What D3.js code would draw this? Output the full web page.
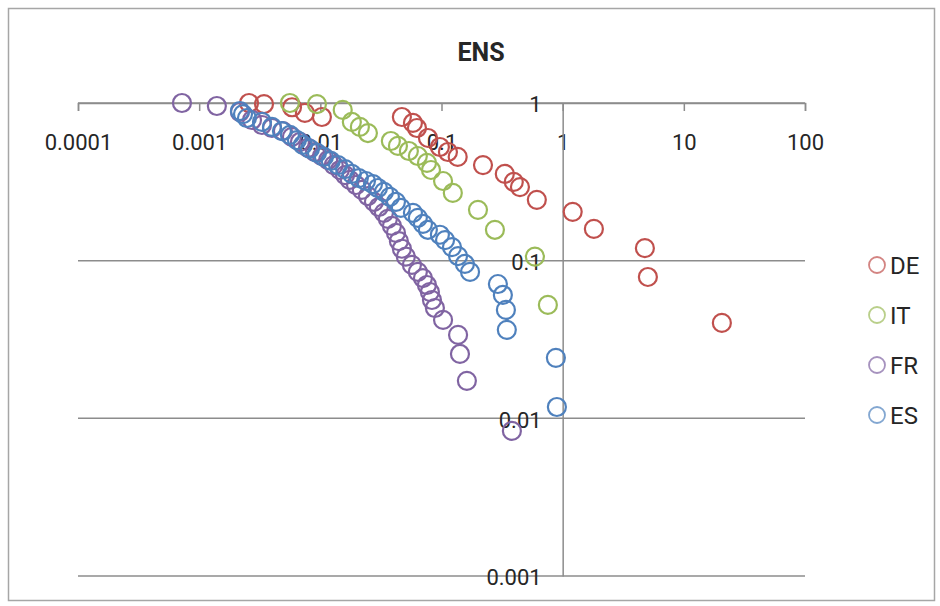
<!DOCTYPE html>
<html>
<head>
<meta charset="utf-8">
<script src="https://cdn.jsdelivr.net/npm/d3@7/dist/d3.min.js"></script>
<style>
  body { margin: 0; background: #fff; }
  svg text { font-family: "Liberation Sans Narrow", "Roboto", "DejaVu Sans", sans-serif; fill: #262626; }
</style>
</head>
<body>
<script>
// Series names and colours
var seriesNames = ["DE", "IT", "FR", "ES"];
var seriesColors = ["#C0504D", "#9BBB59", "#8064A2", "#4F81BD"];

// Tick values
var xTicks = [0.0001, 0.001, 0.01, 0.1, 1, 10, 100];
var yTicks = [0.001, 0.01, 0.1, 1];

// DE
var deX = [0.00258, 0.00343, 0.00584, 0.00746, 0.0103, 0.0471, 0.0581, 0.0627, 0.0773, 0.097, 0.113, 0.136, 0.220, 0.333, 0.395, 0.444, 0.612, 1.21, 1.81, 4.77, 5.05, 20.6];
var deY = [1.0, 0.985, 0.94, 0.865, 0.815, 0.815, 0.747, 0.694, 0.600, 0.526, 0.489, 0.455, 0.404, 0.355, 0.316, 0.293, 0.243, 0.204, 0.159, 0.120, 0.0788, 0.0403];

// IT
var itX = [0.00561, 0.00938, 0.0153, 0.0182, 0.0212, 0.0247, 0.0382, 0.0437, 0.0538, 0.0638, 0.0759, 0.0819, 0.103, 0.124, 0.200, 0.276, 0.590, 0.755];
var itY = [1.0, 0.985, 0.904, 0.758, 0.705, 0.645, 0.574, 0.534, 0.496, 0.461, 0.417, 0.376, 0.320, 0.269, 0.210, 0.157, 0.106, 0.0524];

// FR
var frX = [0.000721, 0.00140, 0.00217, 0.00273, 0.00330, 0.00399, 0.00491, 0.00583, 0.00679, 0.00791, 0.00902, 0.0103, 0.0116, 0.0129, 0.0145, 0.0160, 0.0175, 0.0197, 0.0220, 0.0247, 0.0277, 0.0304, 0.0335, 0.0361, 0.0390, 0.0421, 0.0445, 0.0471, 0.0508, 0.0570, 0.0638, 0.0703, 0.0758, 0.0802, 0.0834, 0.0882, 0.103, 0.137, 0.142, 0.162, 0.381];
var frY = [1.0, 0.957, 0.877, 0.780, 0.725, 0.694, 0.664, 0.609, 0.566, 0.519, 0.489, 0.461, 0.435, 0.404, 0.376, 0.349, 0.325, 0.302, 0.281, 0.257, 0.236, 0.219, 0.201, 0.184, 0.166, 0.150, 0.133, 0.119, 0.106, 0.0940, 0.0848, 0.0776, 0.0701, 0.0633, 0.0563, 0.0501, 0.0421, 0.0338, 0.0256, 0.0173, 0.00832];

// ES
var esX = [0.00217, 0.00230, 0.00248, 0.00330, 0.00399, 0.00482, 0.00561, 0.00641, 0.00718, 0.00820, 0.00938, 0.0107, 0.0122, 0.0140, 0.0160, 0.0182, 0.0208, 0.0238, 0.0272, 0.0299, 0.0335, 0.0375, 0.0421, 0.0462, 0.0581, 0.0638, 0.0703, 0.0772, 0.0970, 0.107, 0.122, 0.137, 0.156, 0.172, 0.292, 0.321, 0.340, 0.346, 0.879, 0.896];
var esY = [0.890, 0.851, 0.803, 0.758, 0.705, 0.664, 0.627, 0.582, 0.542, 0.511, 0.482, 0.455, 0.429, 0.404, 0.381, 0.355, 0.334, 0.320, 0.306, 0.289, 0.273, 0.254, 0.236, 0.216, 0.201, 0.187, 0.171, 0.157, 0.146, 0.135, 0.122, 0.107, 0.0953, 0.0848, 0.0711, 0.0606, 0.0487, 0.0364, 0.0242, 0.0118];

var seriesX = [deX, itX, frX, esX];
var seriesY = [deY, itY, frY, esY];

var width = 940, height = 606;

var svg = d3.select("body").append("svg")
    .attr("width", width)
    .attr("height", height);

// outer frame
svg.append("rect")
    .attr("x", 8.5).attr("y", 8.5)
    .attr("width", 926).attr("height", 592)
    .attr("fill", "#fff")
    .attr("stroke", "#a6a6a6")
    .attr("stroke-width", 1.5);

// Scales
var x = d3.scaleLog().domain([0.0001, 100]).range([78, 805]);
var y = d3.scaleLog().domain([0.001, 1]).range([576, 103]);

// Horizontal gridlines
svg.append("g")
    .selectAll("line")
    .data(yTicks)
  .enter().append("line")
    .attr("x1", x(0.0001))
    .attr("x2", x(100))
    .attr("y1", function(d) { return y(d); })
    .attr("y2", function(d) { return y(d); })
    .attr("stroke", "#8c8c8c")
    .attr("stroke-width", 1.5);

// X axis crossing at y = 1
var xAxis = svg.append("g")
    .attr("transform", "translate(0," + y(1) + ")")
    .call(d3.axisBottom(x)
      .tickValues(xTicks)
      .tickSize(8)
      .tickFormat(function(d) { return String(d); }));
xAxis.select(".domain").attr("stroke", "#8c8c8c").attr("stroke-width", 1.5);
xAxis.selectAll(".tick line").attr("stroke", "#8c8c8c").attr("stroke-width", 1.5);
xAxis.selectAll("text")
    .style("font-size", "22px")
    .attr("dy", "0.35em")
    .attr("y", 39)
    .attr("fill", "#262626");

// Y axis crossing at x = 1
var yAxis = svg.append("g")
    .attr("transform", "translate(" + x(1) + ",0)")
    .call(d3.axisLeft(y)
      .tickValues(yTicks)
      .tickSize(0)
      .tickFormat(function(d) { return String(d); }));
yAxis.select(".domain").attr("stroke", "#8c8c8c").attr("stroke-width", 1.5);
yAxis.selectAll("text")
    .style("font-size", "22px")
    .attr("x", -21)
    .attr("dy", "0.4em")
    .attr("fill", "#262626");

// Points
for (var s = 0; s < seriesNames.length; s++) {
  var pts = seriesX[s].map(function(v, i) { return [v, seriesY[s][i]]; });
  svg.append("g")
      .selectAll("circle")
      .data(pts)
    .enter().append("circle")
      .attr("cx", function(d) { return x(d[0]); })
      .attr("cy", function(d) { return y(d[1]); })
      .attr("r", 9)
      .attr("fill", "none")
      .attr("stroke", seriesColors[s])
      .attr("stroke-width", 2.2);
}

// Title
svg.append("text")
    .attr("x", 481)
    .attr("y", 61)
    .attr("text-anchor", "middle")
    .style("font-size", "25px")
    .style("font-weight", "bold")
    .text("ENS");

// Legend
var legend = svg.append("g")
    .selectAll("g")
    .data(seriesNames)
  .enter().append("g")
    .attr("transform", function(d, i) { return "translate(877," + (265 + i * 50) + ")"; });
legend.append("circle")
    .attr("r", 8)
    .attr("fill", "none")
    .attr("stroke", function(d, i) { return seriesColors[i]; })
    .attr("stroke-opacity", 0.7)
    .attr("stroke-width", 1.8);
legend.append("text")
    .attr("x", 13)
    .attr("dy", "0.36em")
    .style("font-size", "24px")
    .text(function(d) { return d; });
</script>
</body>
</html>
